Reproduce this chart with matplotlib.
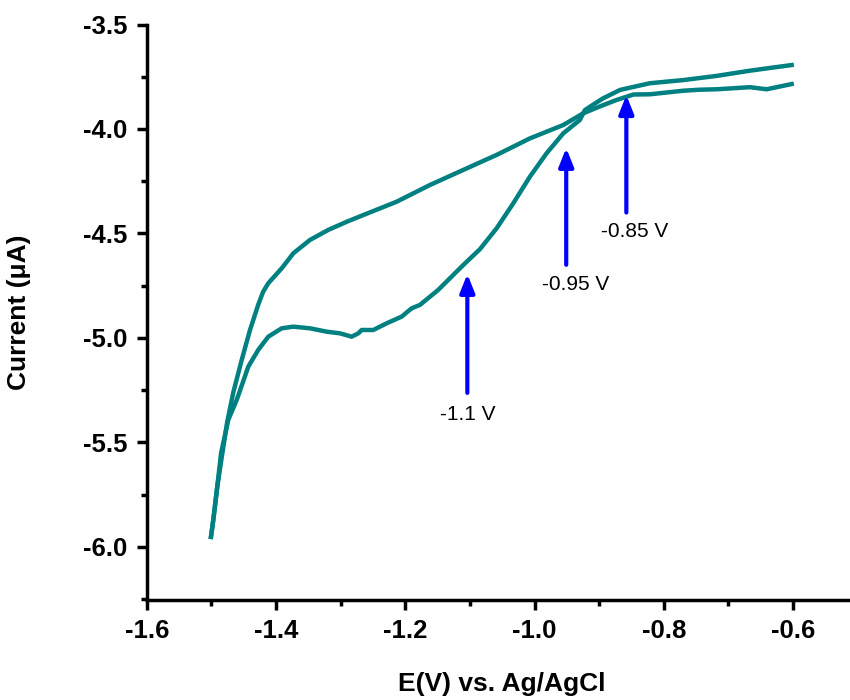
import numpy as np
import matplotlib
matplotlib.use("Agg")
import matplotlib.pyplot as plt
from matplotlib.ticker import MultipleLocator

plt.rcParams['font.family'] = ['Liberation Sans', 'DejaVu Sans']
plt.rcParams['axes.unicode_minus'] = False

# branch A: shallow branch (upper on the left, lower at the right end)
e_a = [-1.5006, -1.497, -1.4908, -1.483, -1.4753, -1.466, -1.453, -1.4402, -1.4274,
       -1.420, -1.4119, -1.3912, -1.3732, -1.3474, -1.3191, -1.2906, -1.265, -1.2133,
       -1.1618, -1.1103, -1.0586, -1.0071, -0.9556, -0.9247, -0.8973, -0.873, -0.847,
       -0.8215, -0.77, -0.744, -0.7183, -0.6668, -0.641, -0.6023]
i_a = [-5.952, -5.871, -5.711, -5.552, -5.400, -5.260, -5.105, -4.962, -4.840,
       -4.780, -4.738, -4.667, -4.595, -4.531, -4.483, -4.444, -4.412, -4.348,
       -4.268, -4.196, -4.124, -4.045, -3.981, -3.925, -3.890, -3.861, -3.835,
       -3.834, -3.817, -3.812, -3.810, -3.800, -3.810, -3.785]

# branch B: branch with the shoulder near -1.35 V
e_b = [-1.5006, -1.497, -1.4908, -1.485, -1.4738, -1.4608, -1.4428, -1.4274, -1.4119,
       -1.3912, -1.3732, -1.3474, -1.3216, -1.301, -1.283, -1.2727, -1.2675, -1.2495,
       -1.2288, -1.2056, -1.190, -1.1773, -1.149, -1.1103, -1.0844, -1.0586, -1.033,
       -1.0071, -0.9813, -0.9556, -0.930, -0.922, -0.895, -0.8676, -0.8215, -0.770,
       -0.7183, -0.6668, -0.6023]
i_b = [-5.952, -5.871, -5.711, -5.552, -5.392, -5.297, -5.137, -5.057, -4.994,
       -4.954, -4.946, -4.954, -4.970, -4.978, -4.994, -4.978, -4.962, -4.962,
       -4.930, -4.898, -4.858, -4.842, -4.770, -4.651, -4.575, -4.475, -4.356,
       -4.228, -4.116, -4.021, -3.957, -3.909, -3.855, -3.813, -3.781, -3.766,
       -3.746, -3.721, -3.694]

# peak markers
arrow_e = [-1.104, -0.951, -0.858]
arrow_tip = [-4.694, -4.091, -3.838]
arrow_tail = [-5.263, -4.65, -4.40]
arrow_labels = ["-1.1 V", "-0.95 V", "-0.85 V"]
label_e = [-1.103, -0.936, -0.845]
label_i = [-5.368, -4.746, -4.491]

fig = plt.figure(figsize=(8.5, 7), dpi=100)
ax = fig.add_axes([0.1726, 0.1429, 0.8274, 0.8221])

line_color = "#008080"
ax.plot(e_a, i_a, color=line_color, lw=3.2, solid_joinstyle="round")
ax.plot(e_b, i_b, color=line_color, lw=3.2, solid_joinstyle="round")

for x, tip, tail, lab, lx, ly in zip(arrow_e, arrow_tip, arrow_tail, arrow_labels, label_e, label_i):
    ax.annotate("", xy=(x, tip), xytext=(x, tail),
                arrowprops=dict(arrowstyle="-|>,head_length=0.55,head_width=0.22",
                                color="blue", lw=3, mutation_scale=20,
                                shrinkA=0, shrinkB=0))
    ax.text(lx, ly, lab, ha="center", va="center", fontsize=15, color="black")

ax.set_xlim(-1.6, -0.512)
ax.set_ylim(-6.254, -3.5)

ax.spines["top"].set_visible(False)
ax.spines["right"].set_visible(False)
for s in ("left", "bottom"):
    ax.spines[s].set_linewidth(2.5)

ax.xaxis.set_major_locator(MultipleLocator(0.2))
ax.xaxis.set_minor_locator(MultipleLocator(0.1))
ax.yaxis.set_major_locator(MultipleLocator(0.5))
ax.yaxis.set_minor_locator(MultipleLocator(0.25))
ax.tick_params(which="major", direction="out", length=7, width=2.5, pad=7)
ax.tick_params(which="minor", direction="out", length=4, width=2.5)
ax.xaxis.set_major_formatter(plt.FuncFormatter(lambda v, p: "%.1f" % v))
ax.yaxis.set_major_formatter(plt.FuncFormatter(lambda v, p: "%.1f" % v))
for lab in ax.get_xticklabels() + ax.get_yticklabels():
    lab.set_fontsize(18.5)
    lab.set_fontweight("bold")

ax.set_xlabel("E(V) vs. Ag/AgCl", fontsize=19, fontweight="bold")
ax.set_ylabel("Current (μA)", fontsize=19, fontweight="bold")
ax.xaxis.set_label_coords(0.505, -0.125)
ax.yaxis.set_label_coords(-0.165, 0.5)

fig.savefig("out.png", dpi=100)
